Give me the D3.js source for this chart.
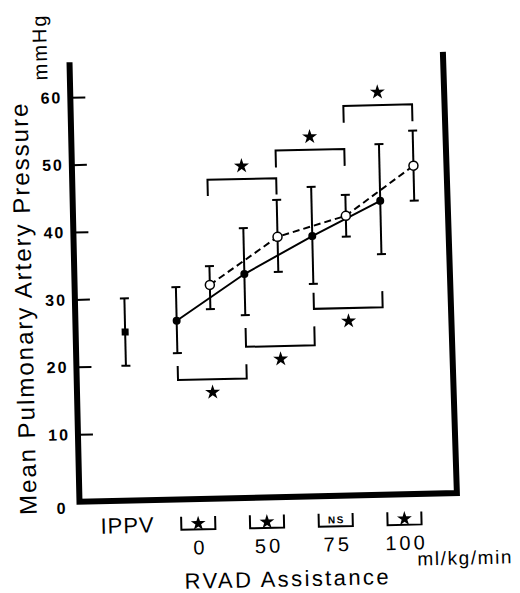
<!DOCTYPE html>
<html>
<head>
<meta charset="utf-8">
<script src="https://cdn.jsdelivr.net/npm/d3@7"></script>
<style>
  html, body { margin: 0; padding: 0; background: #fff; }
  svg { display: block; font-family: "Liberation Sans", Arial, Helvetica, sans-serif; }
</style>
</head>
<body>
<script>
// ---------------- data ----------------
const categories = ["IPPV", "0", "50", "75", "100"];
const rvadLevels = ["0", "50", "75", "100"];

const ippvMean = [25.0];
const ippvLow = [20.0];
const ippvHigh = [30.0];

// filled circles, solid line
const solidMean = [26.5, 33.2, 38.6, 43.6];
const solidLow  = [21.7, 27.1, 31.5, 35.7];
const solidHigh = [31.5, 40.0, 45.9, 52.0];

// open circles, dashed line
const openMean = [31.7, 38.6, 41.5, 48.7];
const openLow  = [28.1, 33.4, 38.4, 43.5];
const openHigh = [34.5, 44.1, 44.6, 53.9];

// significance brackets (lower = filled series, upper = open series)
const lowerFrom  = ["0", "50", "75"];
const lowerTo    = ["50", "75", "100"];
const lowerLevel = [17.7, 22.4, 27.8];
const lowerTip   = [19.8, 25.2, 30.2];

const upperFrom  = ["0", "50", "75"];
const upperTo    = ["50", "75", "100"];
const upperLevel = [47.3, 51.4, 57.8];
const upperTip   = [44.9, 48.9, 55.3];

// marks in the boxes under each RVAD level
const boxMarks = ["★", "★", "NS", "★"];

const yTicks = [0, 10, 20, 30, 40, 50, 60];

const yTitle = "Mean Pulmonary Artery Pressure";
const yUnit = "mmHg";
const xTitle = "RVAD Assistance";
const xUnit = "ml/kg/min";

// ---------------- layout ----------------
const W = 520, H = 593;
const svg = d3.select("body").append("svg").attr("width", W).attr("height", H);
const g = svg.append("g").attr("transform", "rotate(-1.3,260,280)");

const x = d3.scalePoint().domain(categories).range([124, 399]);
const y = d3.scaleLinear().domain([0, 60]).range([497.5, 93]);
const off = 17;
const xs = c => x(c) - off;   // filled series
const xo = c => x(c) + off;   // open series

const axisX = 74.5, topY = 58, rightX = 450, rightTopY = 56;

// frame
g.append("path")
  .attr("d", `M${axisX},${topY} L${axisX},${y(0)} L${rightX + 2},${y(0)} L${rightX - 2},${rightTopY}`)
  .attr("fill", "none").attr("stroke", "#000").attr("stroke-width", 6)
  .attr("stroke-linejoin", "miter");

// y axis ticks and labels
const yAxis = d3.axisRight(y).tickValues(yTicks.filter(v => v > 0)).tickSize(15).tickFormat("");
const ya = g.append("g").attr("transform", `translate(${axisX},0)`).call(yAxis);
ya.select(".domain").remove();
ya.selectAll(".tick line").attr("stroke", "#000").attr("stroke-width", 2);

g.selectAll(".ylab").data(yTicks).join("text")
  .attr("class", "ylab")
  .attr("x", d => d === 0 ? axisX - 12 : axisX - 8)
  .attr("y", d => y(d) + (d === 0 ? 6 : 0))
  .attr("dy", "0.36em")
  .attr("text-anchor", "end")
  .attr("font-size", 16).attr("font-weight", "bold").attr("letter-spacing", 2)
  .text(d => d);

// axis titles
g.append("text")
  .attr("transform", "translate(23,303) rotate(-90)")
  .attr("text-anchor", "middle").attr("dominant-baseline", "central")
  .attr("font-size", 24).attr("letter-spacing", 2)
  .text(yTitle);
g.append("text")
  .attr("transform", "translate(45,42) rotate(-90)")
  .attr("text-anchor", "middle").attr("dominant-baseline", "central")
  .attr("font-size", 20).attr("letter-spacing", 2)
  .text(yUnit);

// lines
const line = d3.line();
g.append("path")
  .attr("d", line(rvadLevels.map((c, i) => [xs(c), y(solidMean[i])])))
  .attr("fill", "none").attr("stroke", "#000").attr("stroke-width", 2);
g.append("path")
  .attr("d", line(rvadLevels.map((c, i) => [xo(c), y(openMean[i])])))
  .attr("fill", "none").attr("stroke", "#000").attr("stroke-width", 2)
  .attr("stroke-dasharray", "7,4");

// error bars
function errorBars(xs_, lo, hi) {
  const eb = g.append("g").attr("stroke", "#000").attr("stroke-width", 2);
  xs_.forEach((xx, i) => {
    eb.append("line").attr("x1", xx).attr("x2", xx).attr("y1", y(lo[i])).attr("y2", y(hi[i]));
    eb.append("line").attr("x1", xx - 4.5).attr("x2", xx + 4.5).attr("y1", y(lo[i])).attr("y2", y(lo[i]));
    eb.append("line").attr("x1", xx - 4.5).attr("x2", xx + 4.5).attr("y1", y(hi[i])).attr("y2", y(hi[i]));
  });
}
errorBars([x("IPPV")], ippvLow, ippvHigh);
errorBars(rvadLevels.map(xs), solidLow, solidHigh);
errorBars(rvadLevels.map(xo), openLow, openHigh);

// markers
g.append("rect")
  .attr("x", x("IPPV") - 3.5).attr("y", y(ippvMean[0]) - 3.5)
  .attr("width", 7).attr("height", 7).attr("fill", "#000");
g.selectAll(".solidpt").data(rvadLevels).join("circle")
  .attr("class", "solidpt")
  .attr("cx", d => xs(d)).attr("cy", (d, i) => y(solidMean[i])).attr("r", 4)
  .attr("fill", "#000");
g.selectAll(".openpt").data(rvadLevels).join("circle")
  .attr("class", "openpt")
  .attr("cx", d => xo(d)).attr("cy", (d, i) => y(openMean[i])).attr("r", 4.5)
  .attr("fill", "#fff").attr("stroke", "#000").attr("stroke-width", 1.5);

// significance brackets
const star = d3.symbol().type(d3.symbolStar);
function brackets(from, to, level, tip, xf, dir) {
  from.forEach((f, i) => {
    const x1 = xf(f), x2 = xf(to[i]);
    g.append("path")
      .attr("d", `M${x1},${y(tip[i])} V${y(level[i])} H${x2} V${y(tip[i])}`)
      .attr("fill", "none").attr("stroke", "#000").attr("stroke-width", 2);
    g.append("path")
      .attr("d", star.size(70)())
      .attr("transform", `translate(${(x1 + x2) / 2},${y(level[i]) + dir * 13})`)
      .attr("fill", "#000");
  });
}
brackets(lowerFrom, lowerTo, lowerLevel, lowerTip, xs, 1);
brackets(upperFrom, upperTo, upperLevel, upperTip, xo, -1);

// category labels under the axis
g.append("text")
  .attr("x", x("IPPV") - 2).attr("y", 530)
  .attr("text-anchor", "middle").attr("font-size", 22).attr("letter-spacing", 1)
  .text("IPPV");

const boxTop = 515, boxBot = 528, boxHalf = 17;
rvadLevels.forEach((c, i) => {
  const cx = x(c);
  g.append("path")
    .attr("d", `M${cx - boxHalf},${boxTop} V${boxBot} H${cx + boxHalf} V${boxTop}`)
    .attr("fill", "none").attr("stroke", "#000").attr("stroke-width", 2);
  if (boxMarks[i] === "★") {
    g.append("path")
      .attr("d", star.size(68)())
      .attr("transform", `translate(${cx},${boxTop + 7})`)
      .attr("fill", "#000");
  } else {
    g.append("text")
      .attr("x", cx + 0.75).attr("y", boxBot - 3)
      .attr("text-anchor", "middle").attr("font-size", 10).attr("font-weight", "bold")
      .attr("letter-spacing", 1.5)
      .text(boxMarks[i]);
  }
  g.append("text")
    .attr("x", cx + 1.5).attr("y", 553)
    .attr("text-anchor", "middle").attr("font-size", 20).attr("letter-spacing", 3)
    .text(c);
});

g.append("text")
  .attr("x", 281).attr("y", 587)
  .attr("text-anchor", "middle").attr("font-size", 22).attr("letter-spacing", 2.4)
  .text(xTitle);
g.append("text")
  .attr("x", 411).attr("y", 569)
  .attr("font-size", 19).attr("letter-spacing", 1.6)
  .text(xUnit);
</script>
</body>
</html>
